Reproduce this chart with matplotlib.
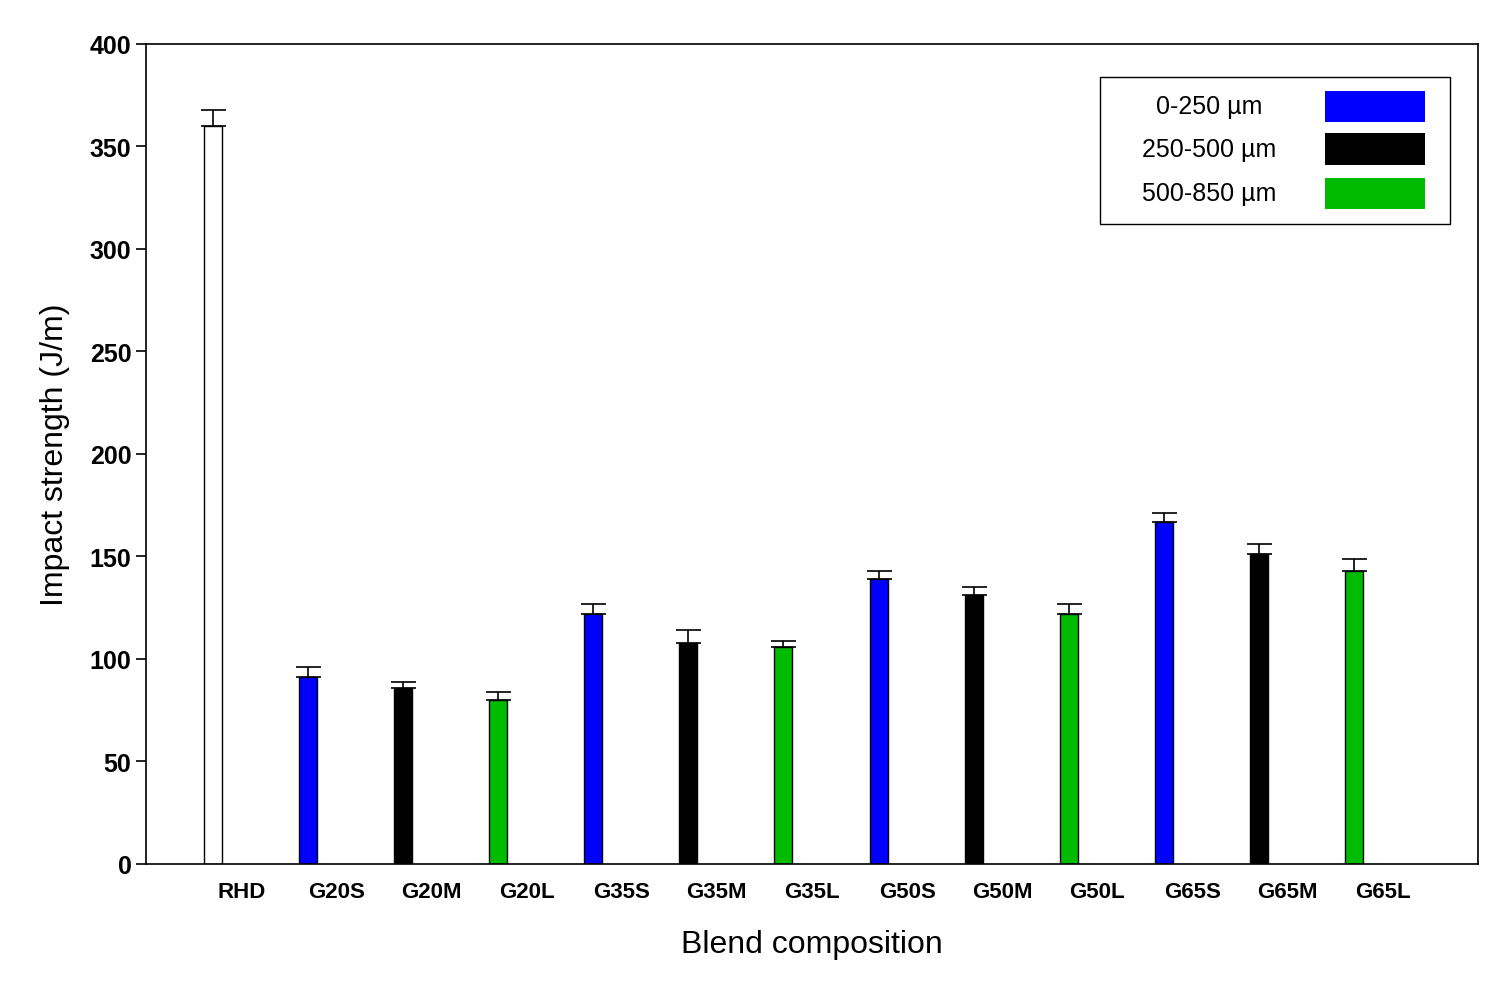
import matplotlib
matplotlib.use("Agg")
import matplotlib.pyplot as plt
from matplotlib.patches import Rectangle

categories = ["RHD","G20S","G20M","G20L","G35S","G35M","G35L","G50S","G50M","G50L","G65S","G65M","G65L"]
values = [360, 91, 86, 80, 122, 108, 106, 139, 131, 122, 167, 151, 143]
errors = [8, 5, 3, 4, 5, 6, 3, 4, 4, 5, 4, 5, 6]
colors = ["white"] + ["#0000ff", "#000000", "#00bb00"] * 4
legend_labels = ["0-250 µm", "250-500 µm", "500-850 µm"]
legend_colors = ["#0000ff", "#000000", "#00bb00"]

plt.rcParams['font.family'] = ['Liberation Sans', 'DejaVu Sans']
fig = plt.figure(figsize=(15.1, 9.95), dpi=100)
ax = fig.add_axes([0.0967, 0.1307, 0.8821, 0.8241])
x = list(range(len(categories)))
xb = [i - 0.3 for i in x]
ax.bar(xb, values, width=0.19, color=colors, edgecolor="black", linewidth=1, zorder=2)
ax.errorbar(xb, values, yerr=[[0]*len(errors), errors], fmt="none", ecolor="black",
            elinewidth=1.2, capsize=9, capthick=1.2, zorder=1)
ax.set_xlim(-1, 13)
ax.set_ylim(0, 400)
ax.set_xticks(x)
ax.set_xticklabels(categories, fontsize=16, fontweight="bold")
ax.tick_params(axis="x", length=0, pad=12)
ax.set_yticks(range(0, 401, 50))
ax.tick_params(axis="y", labelsize=18, direction="out", length=7, width=1.2)
for t in ax.get_yticklabels():
    t.set_fontweight("bold")
ax.set_xlabel("Blend composition", fontsize=23, labelpad=20)
ax.set_ylabel("Impact strength (J/m)", fontsize=23, labelpad=14)
for s in ax.spines.values():
    s.set_linewidth(1.2)

ax.add_patch(Rectangle((0.716, 0.780), 0.263, 0.180, transform=ax.transAxes,
                       facecolor="white", edgecolor="black", linewidth=1, zorder=3))
ys = [0.924, 0.872, 0.818]
for lab, c, yy in zip(legend_labels, legend_colors, ys):
    ax.text(0.798, yy, lab, transform=ax.transAxes, ha="center", va="center", fontsize=18, zorder=4)
    ax.add_patch(Rectangle((0.885, yy - 0.019), 0.075, 0.038, transform=ax.transAxes,
                           facecolor=c, edgecolor="none", zorder=4))
fig.savefig("out.png", dpi=100)
